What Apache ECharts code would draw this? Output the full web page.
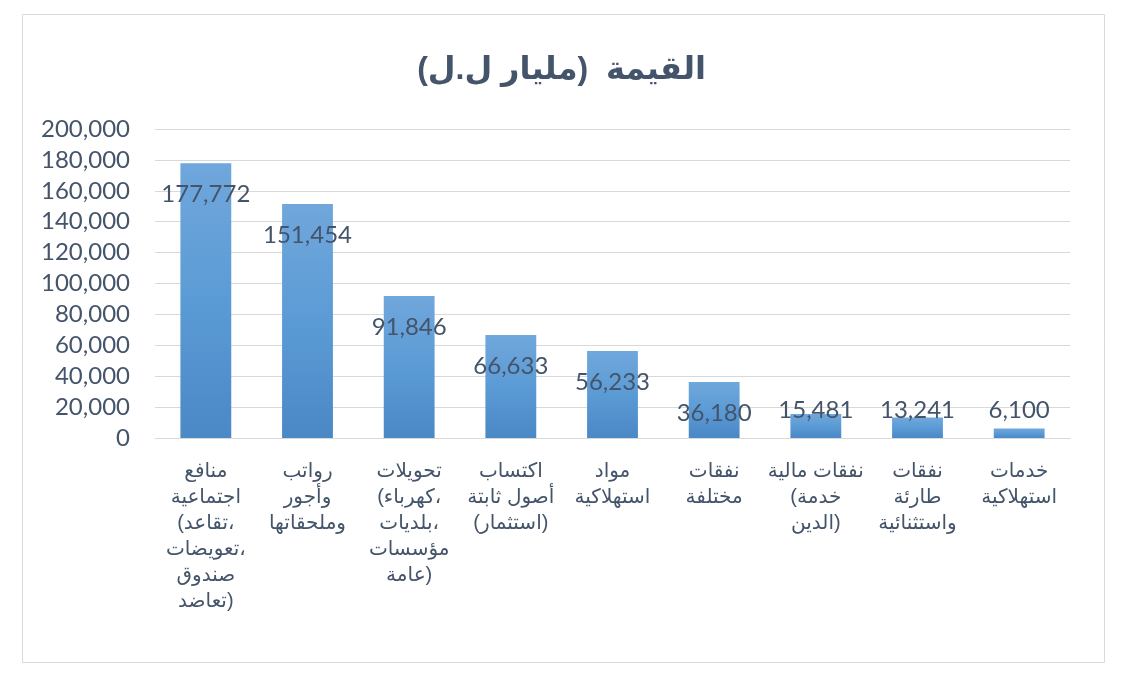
<!DOCTYPE html>
<html dir="ltr">
<head>
<meta charset="utf-8">
<script src="https://cdn.jsdelivr.net/npm/echarts@6/dist/echarts.min.js"></script>
<style>
  html, body { margin: 0; padding: 0; background: #fff; }
  #main { width: 1123px; height: 677px; }
</style>
</head>
<body>
<div id="main"></div>
<script>
var categories = [
    'منافع\nاجتماعية\n(تقاعد،\nتعويضات،\nصندوق\nتعاضد)',
    'رواتب\nوأجور\nوملحقاتها',
    'تحويلات\n(كهرباء،\nبلديات،\nمؤسسات\nعامة)',
    'اكتساب\nأصول ثابتة\n(استثمار)',
    'مواد\nاستهلاكية',
    'نفقات\nمختلفة',
    'نفقات مالية\n(خدمة\nالدين)',
    'نفقات\nطارئة\nواستثنائية',
    'خدمات\nاستهلاكية'
];
var values = [177772, 151454, 91846, 66633, 56233, 36180, 15481, 13241, 6100];
var yTicks = [0, 20000, 40000, 60000, 80000, 100000, 120000, 140000, 160000, 180000, 200000];

var textColor = '#44546a';
var numFont = 'Lato, Carlito, sans-serif';
var arFont = 'Arial, "DejaVu Sans", sans-serif';

function fmt(v) {
    return v.toLocaleString('en-US');
}

// Excel lays each wrapped line out left-to-right: keep every line in an LTR embedding
function ltr(s) {
    return s.split('\n').map(function (l) { return '\u202A' + l + '\u202C'; }).join('\n');
}

// short bars: Excel pushes the label up so it sits above the axis
var seriesData = values.map(function (v) {
    if (v < 30000) {
        return { value: v, label: { position: 'insideBottom', distance: 16 } };
    }
    return v;
});

option = {
    animation: false,
    backgroundColor: '#fff',
    title: {
        text: '\u200Fالقيمة  (مليار ل.ل)\u200F',
        left: 'center',
        top: 49,
        textStyle: {
            fontFamily: arFont,
            fontSize: 32,
            fontWeight: 'bold',
            color: textColor
        }
    },
    graphic: [{
        type: 'rect',
        shape: { x: 22.5, y: 14.5, width: 1082, height: 648 },
        style: { fill: 'none', stroke: '#d9d9d9', lineWidth: 1 },
        silent: true
    }],
    grid: { left: 155, right: 53, top: 129, bottom: 239 },
    xAxis: {
        type: 'category',
        data: categories,
        axisLine: { show: true, lineStyle: { color: '#d9d9d9' } },
        axisTick: { show: false },
        axisLabel: {
            interval: 0,
            margin: 20,
            color: textColor,
            fontFamily: arFont,
            fontSize: 20,
            lineHeight: 26,
            formatter: ltr
        }
    },
    yAxis: {
        type: 'value',
        min: yTicks[0],
        max: yTicks[yTicks.length - 1],
        interval: 20000,
        axisLine: { show: false },
        axisTick: { show: false },
        splitLine: { lineStyle: { color: '#d9d9d9', width: 1 } },
        axisLabel: {
            margin: 25,
            color: textColor,
            fontFamily: numFont,
            fontSize: 24,
            formatter: fmt
        }
    },
    series: [{
        type: 'bar',
        data: seriesData,
        barWidth: '50%',
        itemStyle: {
            color: new echarts.graphic.LinearGradient(0, 0, 0, 1, [
                { offset: 0, color: '#70a7dc' },
                { offset: 0.5, color: '#5b9bd5' },
                { offset: 1, color: '#4a88c6' }
            ])
        },
        label: {
            show: true,
            position: 'insideTop',
            distance: 19,
            color: textColor,
            fontFamily: numFont,
            fontSize: 24,
            formatter: function (p) { return fmt(p.value); }
        }
    }]
};

var myChart = echarts.init(document.getElementById('main'));
myChart.setOption(option);
</script>
</body>
</html>
